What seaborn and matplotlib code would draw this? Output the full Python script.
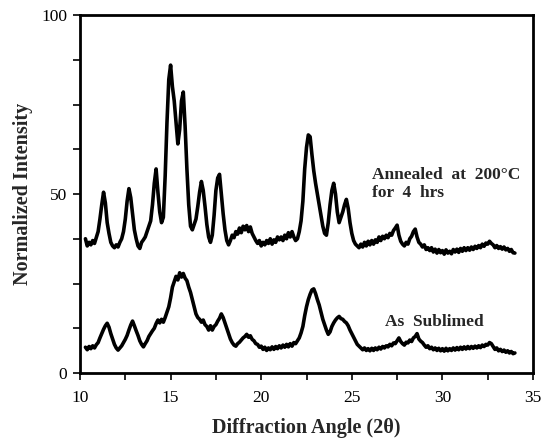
import matplotlib
matplotlib.use("Agg")
import matplotlib.pyplot as plt
from matplotlib.ticker import MultipleLocator
import pandas as pd
import seaborn as sns

# Diffraction angle (2-theta) sample positions
angle = [
    10.3, 10.4, 10.5, 10.6, 10.7, 10.8, 10.9,
    11.0, 11.1, 11.2, 11.3, 11.4, 11.5, 11.6, 11.7, 11.8, 11.9,
    12.0, 12.1, 12.2, 12.3, 12.4, 12.5, 12.6, 12.7, 12.8, 12.9,
    13.0, 13.1, 13.2, 13.3, 13.4, 13.5, 13.6, 13.7, 13.8, 13.9,
    14.0, 14.1, 14.2, 14.3, 14.4, 14.5, 14.6, 14.7, 14.8, 14.9,
    15.0, 15.1, 15.2, 15.3, 15.4, 15.5, 15.6, 15.7, 15.8, 15.9,
    16.0, 16.1, 16.2, 16.3, 16.4, 16.5, 16.6, 16.7, 16.8, 16.9,
    17.0, 17.1, 17.2, 17.3, 17.4, 17.5, 17.6, 17.7, 17.8, 17.9,
    18.0, 18.1, 18.2, 18.3, 18.4, 18.5, 18.6, 18.7, 18.8, 18.9,
    19.0, 19.1, 19.2, 19.3, 19.4, 19.5, 19.6, 19.7, 19.8, 19.9,
    20.0, 20.1, 20.2, 20.3, 20.4, 20.5, 20.6, 20.7, 20.8, 20.9,
    21.0, 21.1, 21.2, 21.3, 21.4, 21.5, 21.6, 21.7, 21.8, 21.9,
    22.0, 22.1, 22.2, 22.3, 22.4, 22.5, 22.6, 22.7, 22.8, 22.9,
    23.0, 23.1, 23.2, 23.3, 23.4, 23.5, 23.6, 23.7, 23.8, 23.9,
    24.0, 24.1, 24.2, 24.3, 24.4, 24.5, 24.6, 24.7, 24.8, 24.9,
    25.0, 25.1, 25.2, 25.3, 25.4, 25.5, 25.6, 25.7, 25.8, 25.9,
    26.0, 26.1, 26.2, 26.3, 26.4, 26.5, 26.6, 26.7, 26.8, 26.9,
    27.0, 27.1, 27.2, 27.3, 27.4, 27.5, 27.6, 27.7, 27.8, 27.9,
    28.0, 28.1, 28.2, 28.3, 28.4, 28.5, 28.6, 28.7, 28.8, 28.9,
    29.0, 29.1, 29.2, 29.3, 29.4, 29.5, 29.6, 29.7, 29.8, 29.9,
    30.0, 30.1, 30.2, 30.3, 30.4, 30.5, 30.6, 30.7, 30.8, 30.9,
    31.0, 31.1, 31.2, 31.3, 31.4, 31.5, 31.6, 31.7, 31.8, 31.9,
    32.0, 32.1, 32.2, 32.3, 32.4, 32.5, 32.6, 32.7, 32.8, 32.9,
    33.0, 33.1, 33.2, 33.3, 33.4, 33.5, 33.6, 33.7, 33.8, 33.9,
    34.0,
]

# Annealed at 200 C for 4 hrs
annealed = [
    37.5, 35.5, 36.5, 35.8, 37.0, 36.2, 37.8,
    39.5, 43.0, 47.0, 50.5, 47.5, 42.0, 39.0, 36.5, 35.5, 35.0,
    35.8, 35.2, 36.5, 37.5, 39.5, 43.0, 48.0, 51.5, 49.0, 44.5,
    40.0, 37.5, 35.5, 34.8, 36.5, 37.2, 38.0, 39.5, 41.0, 42.5,
    47.0, 53.0, 57.0, 50.5, 45.0, 42.0, 43.5, 55.0, 70.0, 82.0,
    86.0, 80.0, 76.0, 70.0, 64.0, 68.0, 76.0, 78.5, 69.0, 57.0,
    47.0, 41.0, 40.0, 41.5, 43.0, 46.5, 50.5, 53.5, 51.0, 46.5,
    41.5, 38.0, 36.5, 38.5, 44.0, 51.0, 54.5, 55.5, 50.0, 44.5,
    40.0, 37.0, 35.8, 37.0, 38.5, 37.8, 39.5, 38.8, 40.5, 39.2,
    41.0, 40.0, 41.2, 39.5, 40.8, 39.0, 38.0, 37.0, 36.2, 37.0,
    35.5, 36.5, 35.8, 37.0, 36.2, 37.5, 36.0, 37.2, 36.5, 38.0,
    37.2, 38.0, 37.0, 38.5, 37.5, 39.2, 38.0, 39.5, 38.0, 37.0,
    37.5, 39.5, 42.5, 48.0, 57.0, 63.0, 66.5, 66.0, 61.0, 56.5,
    53.0, 50.0, 47.0, 44.0, 41.0, 39.0, 38.5, 42.0, 47.0, 51.0,
    53.0, 50.0, 45.0, 42.0, 43.5, 45.0, 47.0, 48.5, 46.0, 42.0,
    39.0, 37.0, 36.0, 35.5, 35.0, 36.0, 35.2, 36.5, 35.5, 36.8,
    35.8, 37.0, 36.0, 37.2, 36.5, 38.0, 37.0, 38.2, 37.5, 38.5,
    37.8, 39.0, 38.5, 39.8, 40.5, 41.3, 38.5, 36.8, 36.0, 35.5,
    36.5, 36.0, 37.5, 38.2, 39.5, 40.2, 38.0, 36.5, 36.0, 35.2,
    35.8, 34.5, 35.0, 34.2, 35.0, 33.8, 34.6, 33.5, 34.5, 33.6,
    34.2, 33.2, 34.4, 33.5, 34.0, 33.3, 34.5, 33.8, 34.6, 33.7,
    34.8, 34.0, 35.0, 34.2, 35.0, 34.3, 35.2, 34.5, 35.4, 34.8,
    35.6, 35.0, 36.0, 35.4, 36.3, 36.0, 36.8, 36.2, 35.8, 35.0,
    35.6, 34.8, 35.3, 34.6, 35.2, 34.4, 34.8, 34.0, 34.5, 33.6,
    33.5,
]

# As sublimed
sublimed = [
    7.2, 6.5, 7.4, 6.8, 7.6, 7.0, 7.9,
    8.5, 9.8, 11.0, 12.2, 13.2, 13.9, 12.8, 11.0, 9.5, 8.0,
    7.0, 6.4, 7.0, 7.6, 8.5, 9.4, 10.5, 12.0, 13.4, 14.5,
    13.2, 11.8, 10.5, 9.0, 8.0, 7.3, 8.2, 9.0, 10.2, 11.0,
    11.8, 12.5, 13.8, 14.8, 14.0, 15.0, 14.2, 15.5, 17.0, 18.5,
    21.0, 24.0, 25.5, 27.0, 26.0, 28.0, 26.8, 27.8, 26.5, 25.8,
    24.0, 22.5, 20.5, 18.5, 16.5, 15.5, 15.0, 14.2, 14.8, 13.5,
    13.0, 12.0, 13.2, 12.0, 13.0, 13.5, 14.5, 15.3, 16.5, 15.5,
    14.0, 12.5, 11.0, 9.5, 8.5, 7.8, 7.5, 8.2, 8.6, 9.2,
    9.8, 10.2, 10.8, 10.0, 10.4, 9.4, 9.0, 8.2, 8.0, 7.2,
    7.5, 6.6, 7.2, 6.3, 7.0, 6.5, 7.3, 6.6, 7.4, 6.8,
    7.6, 7.0, 7.8, 7.2, 8.0, 7.3, 8.2, 7.5, 8.5, 8.2,
    9.0, 9.8, 11.2, 13.0, 16.0, 18.5, 20.5, 22.0, 23.2, 23.5,
    22.2, 20.5, 19.0, 17.0, 15.0, 13.5, 12.0, 10.8, 11.5, 13.0,
    14.0, 14.8, 15.4, 15.8, 15.2, 15.0, 14.4, 14.0, 13.2, 12.0,
    11.0, 10.0, 9.0, 8.0, 7.5, 7.0, 6.5, 7.0, 6.3, 6.8,
    6.2, 6.9, 6.3, 7.0, 6.5, 7.2, 6.7, 7.4, 7.0, 7.6,
    7.3, 8.0, 7.6, 8.4, 8.2, 9.0, 9.8, 8.8, 8.2, 7.8,
    8.6, 8.4, 9.2, 8.8, 9.8, 10.2, 11.0, 9.5, 8.9, 8.5,
    7.8, 7.2, 7.6, 6.8, 7.2, 6.5, 7.0, 6.3, 6.9, 6.2,
    6.8, 6.1, 6.9, 6.2, 6.8, 6.3, 7.0, 6.4, 7.1, 6.5,
    7.2, 6.6, 7.3, 6.7, 7.4, 6.8, 7.4, 6.9, 7.5, 7.0,
    7.6, 7.1, 7.8, 7.4, 8.0, 7.8, 8.5, 8.2, 7.4, 6.6,
    7.0, 6.2, 6.6, 6.0, 6.4, 5.8, 6.2, 5.6, 6.0, 5.4,
    5.6,
]

series_names = ["Annealed at 200°C for 4 hrs", "As Sublimed"]
x_ticks = [10, 15, 20, 25, 30, 35]
y_ticks = [0, 50, 100]

df = pd.concat([
    pd.DataFrame({"angle": angle, "intensity": annealed, "sample": series_names[0]}),
    pd.DataFrame({"angle": angle, "intensity": sublimed, "sample": series_names[1]}),
], ignore_index=True)

sns.set_style("ticks")
plt.rcParams["font.family"] = ["Liberation Serif", "DejaVu Serif"]

fig = plt.figure(figsize=(5.42, 4.42), dpi=100)
ax = fig.add_axes([0.1476, 0.1561, 0.8358, 0.8099])

sns.lineplot(data=df, x="angle", y="intensity", hue="sample",
             palette=["black", "black"], linewidth=2.6, legend=False,
             estimator=None, sort=True, ax=ax)

ax.set_xlim(10, 35)
ax.set_ylim(0, 100)
ax.set_xticks(x_ticks)
ax.set_yticks(y_ticks)
ax.xaxis.set_minor_locator(MultipleLocator(2.5))
ax.yaxis.set_minor_locator(MultipleLocator(12.5))
ax.tick_params(axis="both", which="both", direction="out", length=5,
               width=1.2, colors="black", labelsize=12.5, pad=4)
ax.tick_params(axis="x", which="major", pad=7)
for sp in ax.spines.values():
    sp.set_visible(True)
    sp.set_linewidth(2.0)
    sp.set_color("black")

ax.set_xlabel("Diffraction Angle (2θ)", fontsize=14.5, fontweight="bold", labelpad=9)
ax.set_ylabel("Normalized Intensity", fontsize=14.5, fontweight="bold", labelpad=6)

ax.text(26.1, 55.3, "Annealed  at  200°C", fontsize=12.5, fontweight="bold",
        va="center", ha="left")
ax.text(26.1, 50.2, "for  4  hrs", fontsize=12.5, fontweight="bold",
        va="center", ha="left")
ax.text(26.85, 14.2, "As  Sublimed", fontsize=12.5, fontweight="bold",
        va="center", ha="left")

fig.savefig("out.png", dpi=100)
